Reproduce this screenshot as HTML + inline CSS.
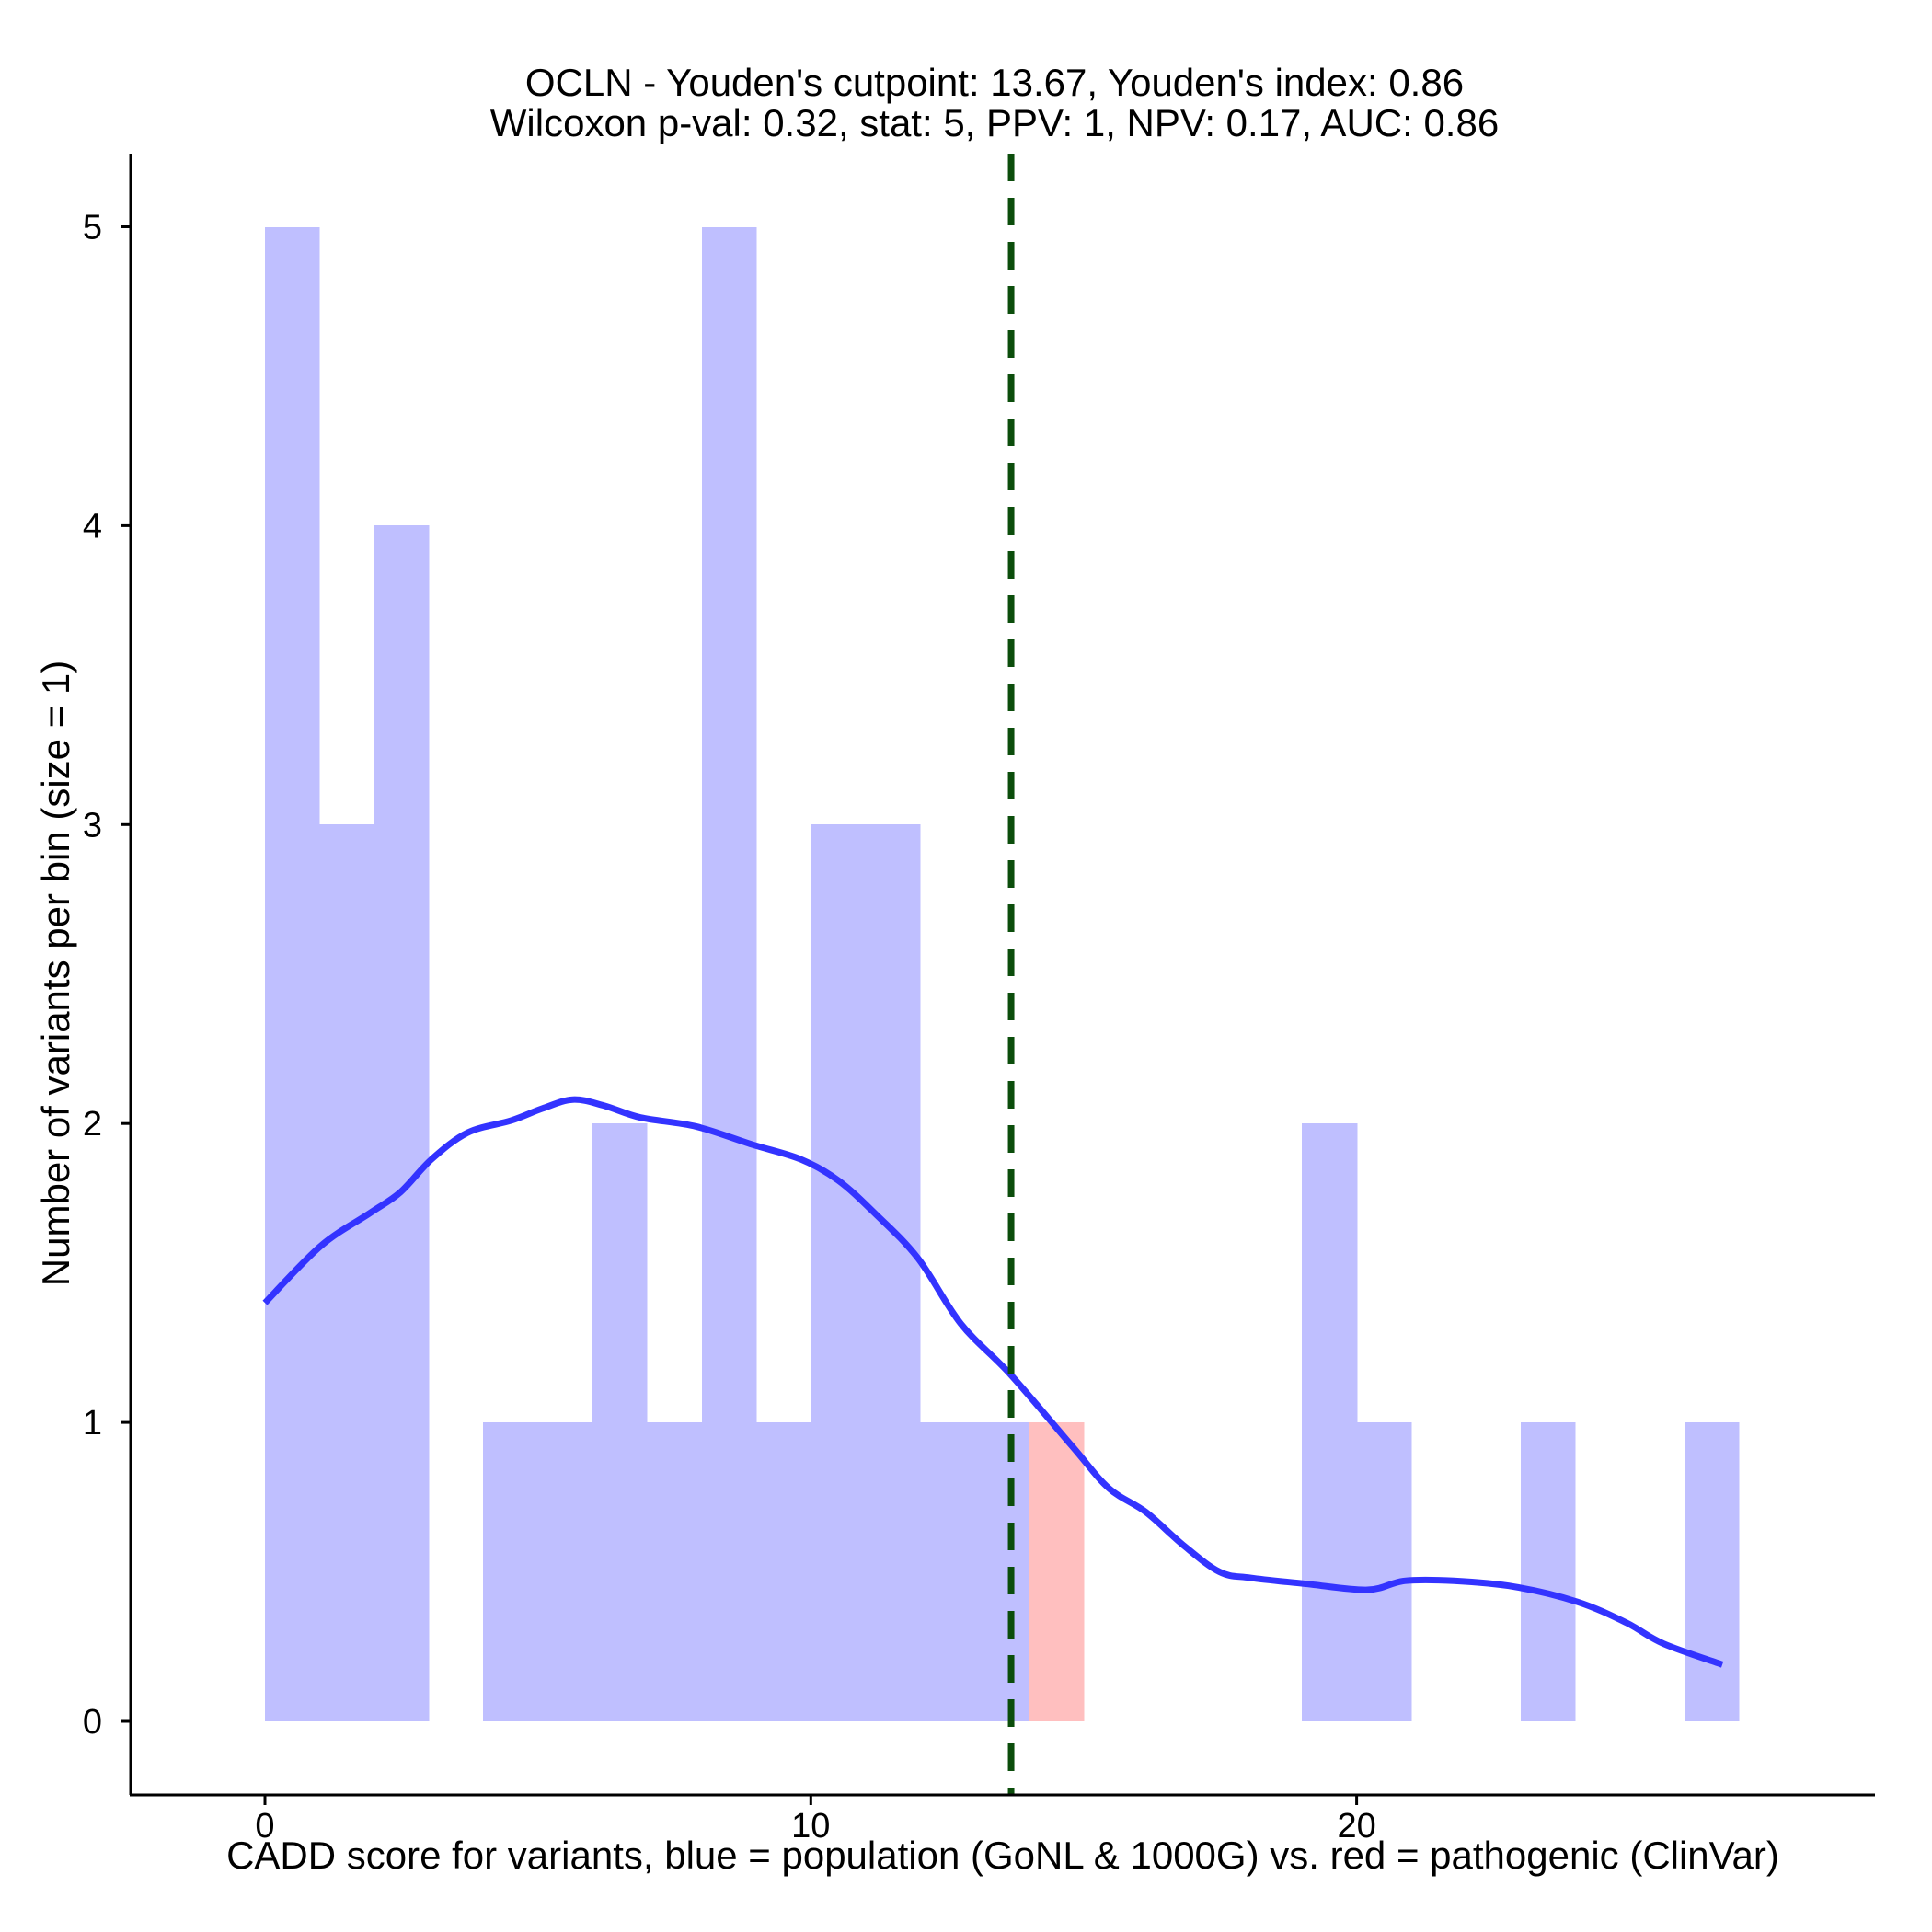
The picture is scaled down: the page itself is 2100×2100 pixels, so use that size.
<!DOCTYPE html>
<html><head><meta charset="utf-8"><style>
html,body{margin:0;padding:0;background:#fff;}
svg{display:block;font-family:"Liberation Sans",Arial,sans-serif;}
</style></head><body>
<svg id="chart" width="2100" height="2100" viewBox="0 0 2100 2100">
<rect width="2100" height="2100" fill="#fff"/>
<g id="bars" shape-rendering="crispEdges"></g>
<g id="curve"></g>
<g id="axes"></g>
<text x="1081" y="104" text-anchor="middle" font-size="42">OCLN - Youden's cutpoint: 13.67, Youden's index: 0.86</text>
<text x="1081" y="148" text-anchor="middle" font-size="42">Wilcoxon p-val: 0.32, stat: 5, PPV: 1, NPV: 0.17, AUC: 0.86</text>
<text x="1090" y="2031" text-anchor="middle" font-size="42">CADD score for variants, blue = population (GoNL &amp; 1000G) vs. red = pathogenic (ClinVar)</text>
<text transform="translate(75,1058) rotate(-90)" text-anchor="middle" font-size="42">Number of variants per bin (size = 1)</text>
</svg>
<script>
const blueBinStarts=[0,1,2,4,5,6,7,8,9,10,11,12,13,19,20,23,26];
const blueCounts=[5,3,4,1,1,2,1,5,1,3,3,1,1,2,1,1,1];
const redBinStarts=[14];
const redCounts=[1];
const densX=[0,1.02,1.92,2.48,3.05,3.72,4.51,5.08,5.64,6.21,6.88,7.9,8.92,9.82,10.5,11.17,11.96,12.75,13.66,14.79,15.46,16.14,16.82,17.49,18.06,19.07,20.2,20.88,21.78,22.9,24.04,24.94,25.62,26.7];
const densY=[1.40,1.59,1.70,1.77,1.88,1.97,2.01,2.05,2.08,2.06,2.02,1.99,1.93,1.88,1.81,1.70,1.55,1.33,1.16,0.92,0.78,0.70,0.59,0.50,0.48,0.46,0.44,0.47,0.47,0.45,0.40,0.33,0.26,0.19];
const cutpoint=13.67;
const xTicks=[0,10,20];
const yTicks=[0,1,2,3,4,5];
const binWidth=1;

const NS="http://www.w3.org/2000/svg";
const sx=v=>288+v*59.33;
const sy=v=>1871-v*324.9;
function mk(tag,attrs,parent){const e=document.createElementNS(NS,tag);for(const k in attrs)e.setAttribute(k,attrs[k]);parent.appendChild(e);return e;}
const bars=document.getElementById('bars');
function bar(b,c,fill,name){
  const x0=Math.round(sx(b)),x1=Math.round(sx(b+binWidth)),y0=Math.round(sy(c)),y1=Math.round(sy(0));
  const r=mk('rect',{x:x0,y:y0,width:x1-x0+0.5,height:y1-y0,fill:fill},bars);
  
  
}
blueBinStarts.forEach((b,i)=>bar(b,blueCounts[i],'#bfbfff','bar-population'));
redBinStarts.forEach((b,i)=>bar(b,redCounts[i],'#ffbfbf','bar-pathogenic'));
const curve=document.getElementById('curve');
const pts=densX.map((x,i)=>[sx(x),sy(densY[i])]);
let d='M'+pts[0][0]+','+pts[0][1];
for(let i=0;i<pts.length-1;i++){
  const p0=pts[Math.max(0,i-1)],p1=pts[i],p2=pts[i+1],p3=pts[Math.min(pts.length-1,i+2)];
  const c1=[p1[0]+(p2[0]-p0[0])/6,p1[1]+(p2[1]-p0[1])/6];
  const c2=[p2[0]-(p3[0]-p1[0])/6,p2[1]-(p3[1]-p1[1])/6];
  d+=' C'+c1[0]+','+c1[1]+' '+c2[0]+','+c2[1]+' '+p2[0]+','+p2[1];
}
const p=mk('path',{d:d,fill:'none',stroke:'#3333ff',"stroke-width":7,"stroke-linejoin":'round'},curve);


const axes=document.getElementById('axes');
const cl=mk('line',{x1:sx(cutpoint),x2:sx(cutpoint),y1:167,y2:1951,stroke:'#0b4d0b',"stroke-width":7,"stroke-dasharray":'30 18'},axes);


mk('line',{x1:142,x2:142,y1:167,y2:1951,stroke:'#000',"stroke-width":3},axes);
mk('line',{x1:141,x2:2038,y1:1951,y2:1951,stroke:'#000',"stroke-width":3},axes);
xTicks.forEach(t=>{
  mk('line',{x1:sx(t),x2:sx(t),y1:1951,y2:1962,stroke:'#000',"stroke-width":3},axes);
  const tx=mk('text',{x:sx(t),y:1997,"text-anchor":'middle',"font-size":38},axes);
  tx.textContent=t;
  
  
});
yTicks.forEach(t=>{
  mk('line',{x1:131,x2:142,y1:sy(t),y2:sy(t),stroke:'#000',"stroke-width":3},axes);
  const tx=mk('text',{x:111,y:sy(t)+13,"text-anchor":'end',"font-size":38},axes);
  tx.textContent=t;
  
  
});
</script>
</body></html>
